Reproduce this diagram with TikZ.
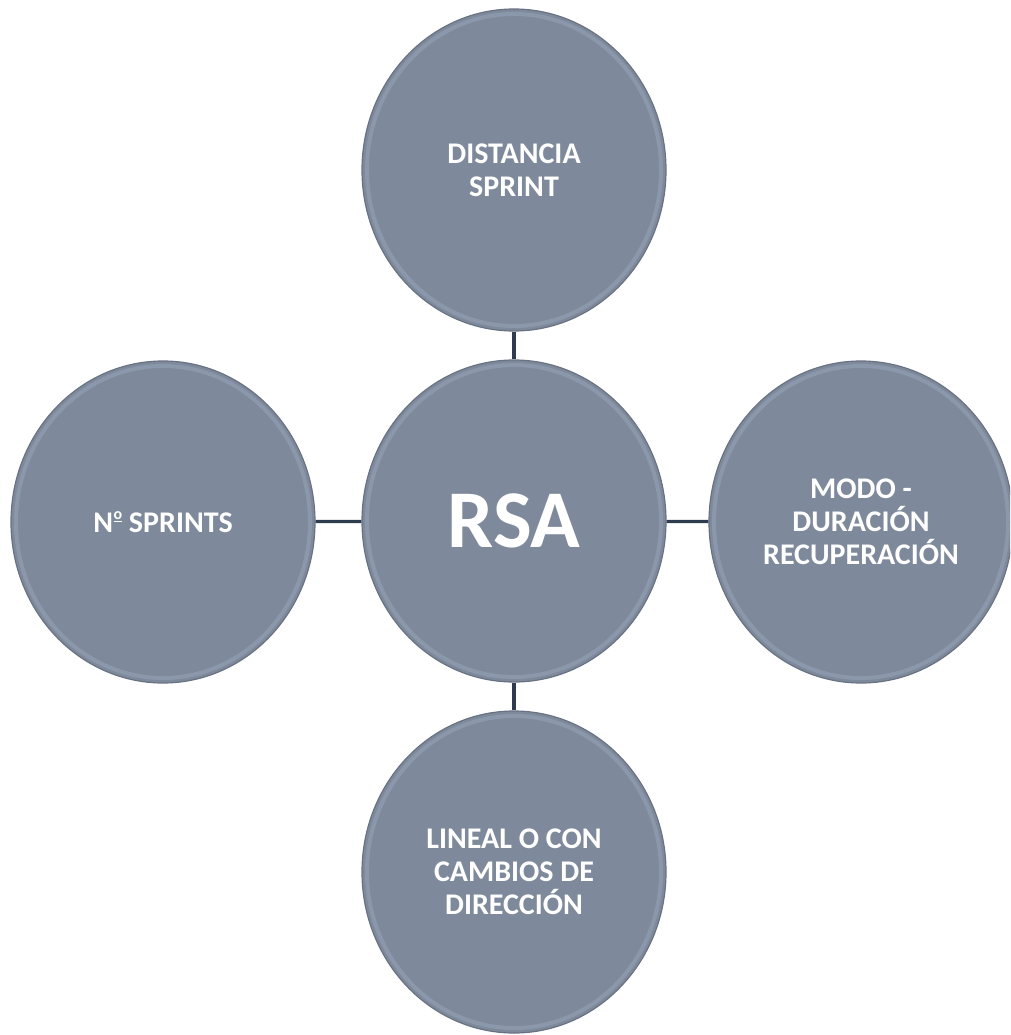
\documentclass[tikz,border=0pt]{standalone}
\usepackage{fontspec}
\setmainfont{Carlito}
\usetikzlibrary{shapes.geometric}
\definecolor{bubblefill}{RGB}{126,138,155}
\definecolor{bubbleedge}{RGB}{104,114,130}
\definecolor{bubblering}{RGB}{152,165,186}
\definecolor{linkcol}{RGB}{47,60,79}
\newcommand\ordmasc{\kern0.5pt\raisebox{0.42em}{\fontsize{16}{16}\selectfont\underline{o}}}
\tikzset{
  bubble/.style={ellipse, minimum width=304pt, minimum height=322pt, inner sep=0pt,
    fill=bubblefill, draw=bubbleedge, line width=1.2pt, text=white, align=center,
    font=\fontsize{30}{33}\selectfont\bfseries},
  ring/.style={draw=bubblering, line width=4pt, opacity=0.5},
  link/.style={draw=linkcol, line width=3.2pt}
}
\begin{document}
\begin{tikzpicture}[x=1pt,y=-1pt]
\useasboundingbox (0,0) rectangle (1010,1035);
\begin{scope}
\clip (0,0) rectangle (1010,1035);
\node[bubble] (top) at (514,170) {DISTANCIA\\SPRINT};
\node[bubble] (mid) at (514,521) {};
\node[bubble] (left) at (163,522) {N\ordmasc\ SPRINTS};
\node[bubble] (right) at (861,522) {MODO -\\DURACIÓN\\RECUPERACIÓN};
\node[bubble] (bot) at (514,872) {LINEAL O CON\\CAMBIOS DE\\DIRECCIÓN};
\foreach \c in {top,mid,left,right,bot}{
  \draw[ring] (\c.center) ellipse [x radius=147pt, y radius=156pt];
}
\node[text=white, font=\fontsize{82}{90}\selectfont\bfseries] (rsa) at (mid.center) {RSA};
\end{scope}
\draw[link] (top) -- (mid);
\draw[link] (mid) -- (bot);
\draw[link] (left) -- (mid);
\draw[link] (mid) -- (right);
\end{tikzpicture}
\end{document}
